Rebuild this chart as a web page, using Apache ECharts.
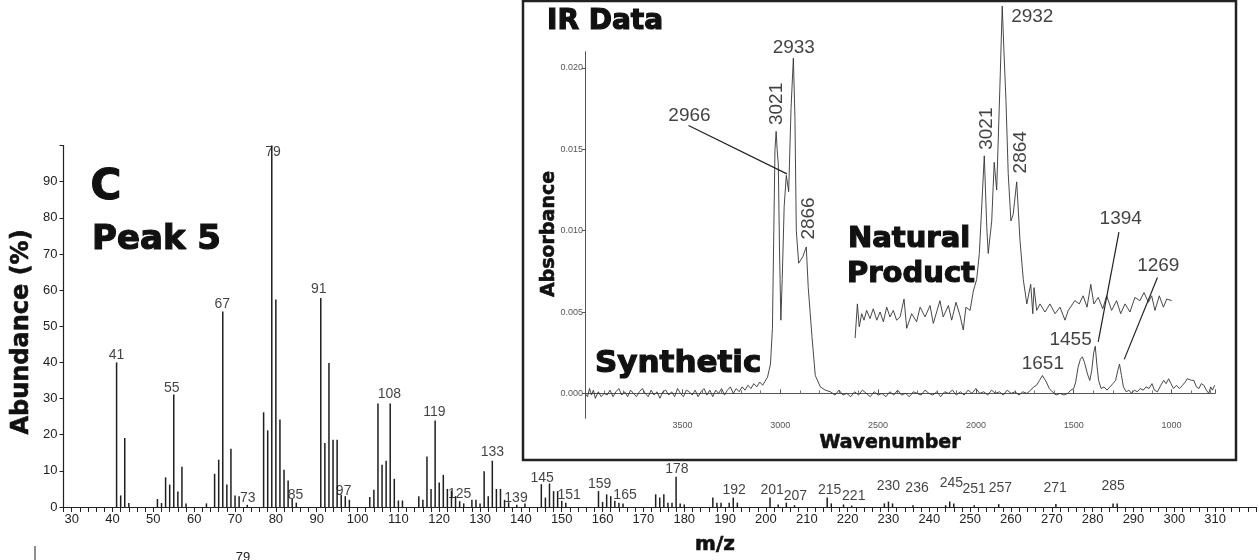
<!DOCTYPE html>
<html>
<head>
<meta charset="utf-8">
<title>Peak 5 - mass spectrum and IR data</title>
<script src="https://cdn.jsdelivr.net/npm/echarts@6.0.0/dist/echarts.min.js"></script>
<style>
  html, body { margin: 0; padding: 0; background: #fff; }
  #chart { width: 1259px; height: 560px; }
</style>
</head>
<body>
<div id="chart"></div>
<script>
// mass spectrum (m/z vs relative abundance %)
const msMz = [41, 42, 43, 44, 51, 52, 53, 54, 55, 56, 57, 58, 63, 65, 66, 67, 68, 69, 70, 71, 73,
  77, 78, 79, 80, 81, 82, 83, 84, 85, 91, 92, 93, 94, 95, 96, 97, 98,
  103, 104, 105, 106, 107, 108, 109, 110, 111, 115, 116, 117, 118, 119, 120, 121, 122, 123, 124, 125, 126,
  128, 129, 130, 131, 132, 133, 134, 135, 136, 137, 139, 141, 145, 146, 147, 148, 149, 150, 151,
  159, 160, 161, 162, 163, 164, 165, 173, 174, 175, 176, 177, 178, 179, 180,
  187, 188, 189, 191, 192, 193, 201, 203, 205, 207, 215, 216, 219, 221,
  229, 230, 231, 236, 244, 245, 246, 251, 257, 271, 285, 286]
const msAbundance = [40.0, 3.2, 19.1, 1.1, 2.2, 1.1, 8.2, 6.2, 31.1, 4.3, 11.1, 1.0, 1.0, 9.2, 13.1, 54.1, 6.2, 16.1, 3.2, 3.0, 0.6,
  26.2, 21.2, 100, 57.4, 24.2, 10.3, 7.3, 2.2, 1.2, 57.8, 17.7, 39.8, 18.6, 18.6, 3.4, 3.0, 2.0,
  2.8, 4.8, 28.6, 11.7, 12.8, 28.6, 7.8, 1.8, 1.8, 3.0, 2.0, 14.0, 5.0, 23.9, 6.8, 8.9, 5.0, 4.5, 3.0, 1.6, 1.0,
  2.0, 2.0, 1.0, 9.9, 3.0, 12.8, 5.0, 5.0, 2.0, 1.3, 0.6, 1.0, 6.3, 2.6, 6.5, 4.4, 4.4, 1.7, 1.2,
  4.4, 1.4, 3.5, 3.0, 1.7, 1.2, 1.0, 3.5, 2.6, 3.5, 1.2, 1.2, 8.4, 1.0, 0.7,
  2.6, 1.2, 1.2, 1.2, 2.6, 1.2, 2.6, 0.7, 1.2, 0.5, 2.6, 1.0, 0.7, 0.4,
  1.0, 1.5, 1.0, 0.5, 0.5, 1.5, 1.0, 0.5, 0.8, 0.8, 1.0, 1.0]

// peak labels: text, and where the label centre sits (m/z, abundance)
const msLabelText = ['41', '55', '67', '79', '91', '108', '119', '133', '73', '85', '97', '125', '139',
  '145', '151', '159', '165', '178', '192', '201', '207', '215', '221', '230', '236', '245', '251', '257', '271', '285']
const msLabelMz = [41, 54.5, 66.9, 79.3, 90.5, 107.8, 118.8, 133, 73.1, 84.8, 96.6, 125, 138.8,
  145.2, 151.8, 159.3, 165.5, 178.2, 192.2, 201.5, 207.2, 215.6, 221.5, 230, 237, 245.4, 251, 257.4, 270.8, 285]
const msLabelAb = [42, 33, 56, 98.3, 60.3, 31.3, 26.3, 15.2, 2.5, 3.3, 4.4, 3.6, 2.5,
  8.1, 3.3, 6.4, 3.3, 10.5, 4.7, 4.7, 3, 4.7, 3, 5.8, 5.2, 6.6, 5, 5.2, 5.2, 5.8]

// IR spectra [wavenumber, absorbance]
const irSynthetic = [
  [3998, 0.0000], [3985, -0.0002], [3975, 0.0003], [3965, -0.0001], [3955, 0.0002], [3945, -0.0003],
  [3930, 0.0001], [3915, -0.0002], [3900, 0.0000], [3885, -0.0001], [3870, 0.0002], [3855, -0.0002],
  [3840, 0.0001], [3825, 0.0003], [3810, -0.0001], [3795, 0.0001], [3780, -0.0002], [3765, 0.0002],
  [3750, 0.0000], [3735, -0.0002], [3720, 0.0001], [3705, 0.0003], [3690, 0.0000], [3675, -0.0002],
  [3660, 0.0002], [3645, -0.0001], [3630, 0.0001], [3615, -0.0003], [3600, 0.0001], [3585, 0.0002],
  [3570, -0.0001], [3555, 0.0001], [3540, -0.0002], [3525, 0.0003], [3510, 0.0000], [3495, -0.0002],
  [3480, 0.0002], [3465, 0.0001], [3450, -0.0001], [3435, 0.0002], [3420, -0.0002], [3405, 0.0001],
  [3390, 0.0003], [3375, -0.0001], [3360, 0.0002], [3345, -0.0002], [3330, 0.0002], [3315, 0.0000],
  [3300, 0.0003], [3285, -0.0001], [3270, 0.0002], [3255, 0.0004], [3240, 0.0000], [3225, 0.0003],
  [3210, 0.0001], [3195, 0.0004], [3180, 0.0002], [3165, 0.0005], [3150, 0.0003], [3135, 0.0006],
  [3120, 0.0004], [3105, 0.0007], [3090, 0.0005], [3080, 0.0006], [3065, 0.0010], [3050, 0.0018],
  [3040, 0.0040], [3033, 0.0100], [3027, 0.0150], [3021, 0.0161], [3016, 0.0150], [3010, 0.0141],
  [3004, 0.0090], [2997, 0.0045], [2990, 0.0070], [2980, 0.0115], [2969, 0.0134], [2957, 0.0124],
  [2945, 0.0175], [2933, 0.0206], [2925, 0.0170], [2918, 0.0100], [2906, 0.0080], [2898, 0.0079],
  [2885, 0.0084], [2867, 0.0090], [2857, 0.0065], [2838, 0.0035], [2821, 0.0011], [2795, 0.0004],
  [2770, 0.0002], [2744, 0.0001], [2720, -0.0001], [2700, 0.0002], [2680, -0.0001], [2660, 0.0000],
  [2640, -0.0002], [2620, 0.0001], [2600, -0.0001], [2580, 0.0002], [2560, 0.0000], [2540, -0.0002],
  [2520, 0.0001], [2500, -0.0001], [2480, 0.0000], [2460, -0.0002], [2440, 0.0001], [2420, -0.0001],
  [2400, 0.0002], [2380, -0.0001], [2360, 0.0000], [2340, -0.0002], [2320, 0.0001], [2300, 0.0000],
  [2280, -0.0001], [2260, 0.0002], [2240, 0.0000], [2220, -0.0001], [2200, 0.0001], [2180, -0.0002],
  [2160, 0.0001], [2140, 0.0000], [2120, 0.0002], [2100, -0.0001], [2080, 0.0001], [2060, -0.0001],
  [2040, 0.0002], [2020, 0.0000], [2000, 0.0003], [1980, 0.0000], [1960, 0.0001], [1940, -0.0001],
  [1920, 0.0002], [1900, 0.0000], [1880, 0.0001], [1860, -0.0001], [1840, 0.0002], [1820, 0.0000],
  [1800, 0.0001], [1780, -0.0001], [1760, 0.0001], [1740, 0.0000], [1720, 0.0002], [1705, 0.0004],
  [1690, 0.0005], [1675, 0.0008], [1660, 0.0011], [1652, 0.0012], [1640, 0.0007], [1625, 0.0003],
  [1610, 0.0001], [1590, -0.0001], [1570, 0.0000], [1550, -0.0001], [1530, 0.0000], [1515, 0.0002],
  [1500, 0.0003], [1490, 0.0007], [1478, 0.0016], [1466, 0.0021], [1456, 0.00225], [1445, 0.0019],
  [1430, 0.0012], [1418, 0.0008], [1408, 0.0014], [1398, 0.0025], [1390, 0.0029], [1382, 0.0018],
  [1373, 0.0008], [1360, 0.0003], [1345, 0.0004], [1330, 0.0002], [1315, 0.0004], [1300, 0.0006],
  [1286, 0.0008], [1275, 0.0014], [1266, 0.0018], [1256, 0.0011], [1246, 0.0004], [1232, 0.0001],
  [1218, 0.0002], [1205, 0.0000], [1190, 0.0002], [1175, 0.0001], [1160, 0.0003], [1145, 0.0002],
  [1130, 0.0004], [1115, 0.0003], [1100, 0.0006], [1088, 0.0002], [1072, 0.0001], [1055, 0.0005],
  [1040, 0.0008], [1028, 0.0006], [1015, 0.0009], [1003, 0.0006], [990, 0.0003], [975, 0.0005],
  [960, 0.0003], [944, 0.0005], [930, 0.0007], [920, 0.0009], [910, 0.0010], [898, 0.0008],
  [886, 0.0008], [873, 0.0004], [860, 0.0003], [848, 0.0006], [835, 0.0005], [822, 0.0002],
  [810, 0.0000], [800, 0.0004], [791, 0.0002], [780, 0.0005]
]

// natural product trace, drawn offset on its own hidden scale
const irNatural = [
  [3647, -0.0013], [3636, 0.0008], [3627, -0.0006], [3615, 0.0002], [3604, -0.0002], [3591, 0.0004],
  [3575, -0.0001], [3559, 0.0005], [3542, -0.0002], [3526, 0.0003], [3510, -0.0003], [3494, 0.0006],
  [3478, 0.0000], [3462, 0.0004], [3446, -0.0002], [3429, 0.0000], [3410, 0.0011], [3397, -0.0007],
  [3373, 0.0002], [3349, -0.0003], [3332, 0.0006], [3308, 0.0000], [3284, 0.0007], [3268, -0.0004],
  [3236, 0.0010], [3220, 0.0000], [3195, 0.0007], [3179, -0.0002], [3158, 0.0009], [3139, 0.0001],
  [3123, -0.0008], [3110, 0.0006], [3090, 0.0004], [3074, 0.0016], [3058, 0.0023], [3045, 0.0039],
  [3037, 0.0059], [3021, 0.0099], [3009, 0.0055], [3002, 0.0039], [2985, 0.0059], [2973, 0.0095],
  [2961, 0.0078], [2945, 0.0143], [2934, 0.0191], [2926, 0.0164], [2916, 0.0133], [2905, 0.0088],
  [2892, 0.0059], [2881, 0.0063], [2864, 0.0083], [2856, 0.0065], [2848, 0.0047], [2832, 0.0023],
  [2815, 0.0008], [2796, 0.0020], [2786, 0.0002], [2780, 0.0018], [2767, 0.0004], [2751, 0.0008],
  [2727, 0.0003], [2703, 0.0008], [2678, 0.0002], [2654, 0.0006], [2630, -0.0002], [2614, 0.0004],
  [2582, 0.0010], [2561, 0.0008], [2542, 0.0013], [2523, 0.0006], [2505, 0.0020], [2490, 0.0008],
  [2469, 0.0012], [2447, 0.0005], [2428, 0.0013], [2404, 0.0004], [2380, 0.0010], [2360, 0.0002],
  [2339, 0.0008], [2315, 0.0003], [2291, 0.0012], [2267, 0.0010], [2247, 0.0015], [2226, 0.0009],
  [2210, 0.0013], [2194, 0.0004], [2173, 0.0013], [2153, 0.0006], [2137, 0.0011], [2113, 0.0010]
]

// IR peak annotations (centre in the synthetic frame, rotated 90 or not)
const irLabelText = ['2933', '3021', '2966', '2866', '1651', '1455', '1394', '1269', '2932', '3021', '2864']
const irLabelWn = [2931, 3017, 3464, 2855, 1658, 1516, 1260, 1068, 1712, 1946, 1772]
const irLabelAbs = [0.02126, 0.01779, 0.01707, 0.01075, 0.0018, 0.00331, 0.01075, 0.00785, 0.02317, 0.01627, 0.01482]
const irLabelRotated = [false, true, false, true, false, false, false, false, false, true, true]

// leader lines [from, to]
const irLeaders = [
  [[3469, 0.01646], [2966, 0.01349]],
  [[1269, 0.00991], [1375, 0.00317]],
  [[1072, 0.00712], [1242, 0.00209]]
]

const chart = echarts.init(document.getElementById('chart'), null, { renderer: 'canvas' })

const axisGrey = '#555'
const bold = '"DejaVu Sans", sans-serif'

// heavy black headline text, like the poster-style titles in the figure
function heading (x, y, text, size, align, rotation) {
  return {
    type: 'text',
    x,
    y,
    rotation: rotation || 0,
    style: {
      text,
      font: 'bold ' + size + 'px ' + bold,
      fill: '#111',
      stroke: '#111',
      lineWidth: size > 25 ? 1.2 : 0.6,
      textAlign: align,
      textVerticalAlign: 'middle'
    }
  }
}

const option = {
  animation: false,
  backgroundColor: '#fff',
  textStyle: { fontFamily: '"Liberation Sans", Arial, sans-serif' },
  grid: [
    { left: 63.5, top: 145.5, width: 1194.3, height: 361.5 },
    { left: 585, top: 51.7, width: 630, height: 366.6 }
  ],
  xAxis: [
    {
      gridIndex: 0,
      type: 'value',
      min: 28,
      max: 320,
      interval: 2,
      axisLine: { show: true, lineStyle: { color: '#222', width: 1.2 } },
      axisTick: { show: true, length: 5, lineStyle: { color: '#222' } },
      axisLabel: {
        color: '#222',
        fontSize: 13,
        margin: 6,
        formatter: v => (v % 10 === 0 && v <= 310 ? String(v) : '')
      },
      splitLine: { show: false }
    },
    {
      gridIndex: 1,
      type: 'value',
      inverse: true,
      min: 778,
      max: 3998,
      splitNumber: 6,
      axisLine: { show: true, lineStyle: { color: axisGrey, width: 1 } },
      axisTick: { show: true, inside: true, length: 4, lineStyle: { color: axisGrey } },
      minorTick: { show: true, splitNumber: 5, length: 3, lineStyle: { color: '#777' } },
      axisLabel: {
        color: axisGrey,
        fontSize: 9,
        margin: 3,
        showMinLabel: false,
        showMaxLabel: false,
        formatter: v => String(Math.round(v))
      },
      splitLine: { show: false },
      minorSplitLine: { show: false }
    },
    {
      gridIndex: 1,
      type: 'value',
      show: false,
      inverse: true,
      min: 1903,
      max: 4956
    }
  ],
  yAxis: [
    {
      gridIndex: 0,
      type: 'value',
      min: 0,
      max: 100,
      interval: 10,
      axisLine: { show: true, lineStyle: { color: '#222', width: 1.2 } },
      axisTick: { show: true, length: 4, lineStyle: { color: '#222' } },
      axisLabel: {
        color: '#222',
        fontSize: 13,
        margin: 6,
        formatter: v => (v === 100 ? '' : String(v))
      },
      splitLine: { show: false }
    },
    {
      gridIndex: 1,
      type: 'value',
      min: -0.00153,
      max: 0.021,
      splitNumber: 4,
      axisLine: { show: true, lineStyle: { color: axisGrey, width: 1 } },
      axisTick: { show: true, length: 3, lineStyle: { color: axisGrey } },
      axisLabel: {
        color: axisGrey,
        fontSize: 9,
        margin: 2,
        showMinLabel: false,
        showMaxLabel: false,
        formatter: v => Number(v).toFixed(3)
      },
      splitLine: { show: false }
    },
    {
      gridIndex: 1,
      type: 'value',
      show: false,
      min: -0.00623,
      max: 0.0163
    }
  ],
  series: [
    {
      type: 'bar',
      name: 'abundance',
      xAxisIndex: 0,
      yAxisIndex: 0,
      barWidth: 1.5,
      silent: true,
      itemStyle: { color: '#1e1e1e' },
      data: msMz.map((m, i) => [m, msAbundance[i]])
    },
    {
      type: 'scatter',
      name: 'ms labels',
      xAxisIndex: 0,
      yAxisIndex: 0,
      symbolSize: 1,
      itemStyle: { color: 'transparent' },
      silent: true,
      label: {
        show: true,
        position: 'inside',
        formatter: '{b}',
        color: '#111',
        fontSize: 14
      },
      data: msLabelText.map((t, i) => ({ name: t, value: [msLabelMz[i], msLabelAb[i]] }))
    },
    {
      type: 'line',
      name: 'Synthetic',
      xAxisIndex: 1,
      yAxisIndex: 1,
      showSymbol: false,
      clip: false,
      silent: true,
      z: 3,
      lineStyle: { color: '#333', width: 0.9 },
      data: irSynthetic
    },
    {
      type: 'line',
      name: 'Natural Product',
      xAxisIndex: 2,
      yAxisIndex: 2,
      showSymbol: false,
      clip: false,
      silent: true,
      z: 3,
      lineStyle: { color: '#333', width: 0.9 },
      data: irNatural
    },
    {
      type: 'scatter',
      name: 'ir labels',
      xAxisIndex: 1,
      yAxisIndex: 1,
      symbolSize: 1,
      clip: false,
      silent: true,
      z: 4,
      itemStyle: { color: 'transparent' },
      label: {
        show: true,
        position: 'inside',
        formatter: '{b}',
        color: '#111',
        fontSize: 19
      },
      data: irLabelText.map((t, i) => ({
        name: t,
        value: [irLabelWn[i], irLabelAbs[i]],
        label: { rotate: irLabelRotated[i] ? 90 : 0 }
      })),
      markLine: {
        silent: true,
        symbol: ['none', 'none'],
        label: { show: false },
        lineStyle: { color: '#222', width: 1.2, type: 'solid' },
        data: irLeaders.map(l => [{ coord: l[0] }, { coord: l[1] }])
      }
    }
  ],
  graphic: [
    {
      type: 'rect',
      z: -1,
      shape: { x: 523, y: 1, width: 713, height: 459 },
      style: { fill: '#fff', stroke: '#222', lineWidth: 2.5 }
    },
    heading(106, 188, 'C', 42, 'center'),
    heading(92, 240, 'Peak 5', 34, 'left'),
    heading(22, 332, 'Abundance (%)', 24, 'center', Math.PI / 2),
    heading(715, 545, 'm/z', 20, 'center'),
    heading(547, 22, 'IR Data', 28, 'left'),
    heading(595, 364, 'Synthetic', 31, 'left'),
    heading(848, 239, 'Natural', 29, 'left'),
    heading(847, 274, 'Product', 29, 'left'),
    heading(890, 443, 'Wavenumber', 19, 'center'),
    heading(549, 234, 'Absorbance', 19, 'center', Math.PI / 2),
    {
      type: 'text', x: 243, y: 557,
      style: { text: '79', font: '13px "Liberation Sans", Arial, sans-serif', fill: '#222', textAlign: 'center', textVerticalAlign: 'middle' }
    },
    {
      type: 'line',
      shape: { x1: 35, y1: 546, x2: 35, y2: 560 },
      style: { stroke: '#222', lineWidth: 1 }
    }
  ]
}

chart.setOption(option)
</script>
</body>
</html>
